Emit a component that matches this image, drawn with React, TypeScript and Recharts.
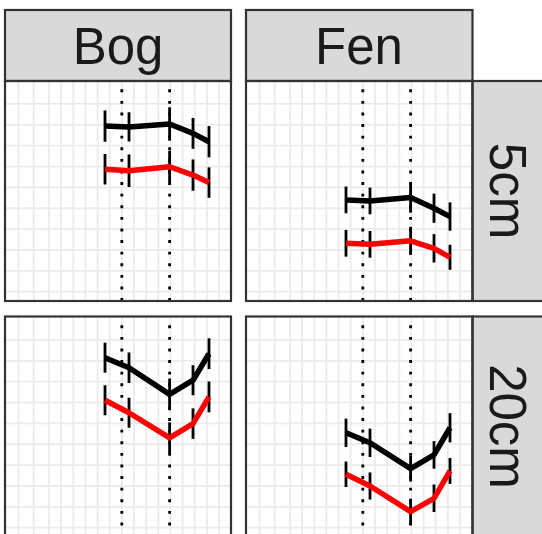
import React from 'react';
import { LineChart, Line, XAxis, YAxis, ReferenceLine, ErrorBar } from 'recharts';

// ---- data (x and y in panel units) ----
const sites = ['Bog', 'Fen'];
const depths = ['5cm', '20cm'];
const sampleX = [100, 124, 164.6, 188, 204];
const markerX = [116.8, 164.6];
const xGridValues = [13.5, 28.7, 44, 56.1, 68.3, 80.4, 92.6, 104.7, 116.9, 129, 141.1, 153.3, 165.4, 177.6, 189.7, 201.9, 214];
const yGridValues = [0, 1, 2, 3, 4, 5, 6, 7, 8, 9];

const bog5Upper = [7.94, 7.90, 8.04, 7.59, 7.19];
const bog5UpperErr = [0.75, 0.7, 0.8, 0.74, 0.75];
const bog5Lower = [5.87, 5.80, 5.99, 5.59, 5.23];
const bog5LowerErr = [0.73, 0.78, 0.76, 0.75, 0.73];

const fen5Upper = [4.40, 4.35, 4.51, 4.00, 3.60];
const fen5UpperErr = [0.64, 0.64, 0.72, 0.7, 0.68];
const fen5Lower = [2.32, 2.27, 2.44, 2.08, 1.65];
const fen5LowerErr = [0.64, 0.64, 0.67, 0.68, 0.6];

const bog20Upper = [8.15, 7.67, 6.39, 7.07, 8.34];
const bog20UpperErr = [0.72, 0.73, 0.76, 0.72, 0.74];
const bog20Lower = [6.11, 5.51, 4.31, 4.99, 6.27];
const bog20LowerErr = [0.72, 0.72, 0.74, 0.73, 0.74];

const fen20Upper = [4.55, 4.07, 2.83, 3.49, 4.79];
const fen20UpperErr = [0.68, 0.68, 0.62, 0.66, 0.7];
const fen20Lower = [2.56, 2.00, 0.77, 1.41, 2.72];
const fen20LowerErr = [0.61, 0.65, 0.62, 0.66, 0.62];

const panelSeries: Record<string, number[][]> = {
  'Bog|5cm': [bog5Upper, bog5UpperErr, bog5Lower, bog5LowerErr],
  'Fen|5cm': [fen5Upper, fen5UpperErr, fen5Lower, fen5LowerErr],
  'Bog|20cm': [bog20Upper, bog20UpperErr, bog20Lower, bog20LowerErr],
  'Fen|20cm': [fen20Upper, fen20UpperErr, fen20Lower, fen20LowerErr],
};

const buildRows = (key: string) => {
  const [u, ue, l, le] = panelSeries[key];
  return sampleX.map((x, i) => ({ x, upper: u[i], upperErr: ue[i], lower: l[i], lowerErr: le[i] }));
};

// ---- layout ----
const PANEL_W = 226;
const PANEL_H = 220;
const colLeft = [5, 246];
const rowTop = [81, 316.5];
const STRIP_TOP = 10;
const RIGHT_STRIP_X = 472.5;
const FONT = '"Liberation Sans", Arial, Helvetica, sans-serif';
const BORDER = '#333333';
const STRIP_FILL = '#D9D9D9';
const GRID = '#EBEBEB';

const Panel = ({ site, depth, left, top }: { site: string; depth: string; left: number; top: number }) => {
  const data = buildRows(`${site}|${depth}`);
  return (
    <div style={{ position: 'absolute', left, top, width: PANEL_W, height: PANEL_H, background: '#fff' }}>
      <LineChart width={PANEL_W} height={PANEL_H} data={data} margin={{ top: 0, right: 0, bottom: 0, left: 0 }}>
        <XAxis dataKey="x" type="number" domain={[0, PANEL_W]} hide allowDataOverflow />
        <YAxis type="number" domain={[-0.446, 10.1]} hide allowDataOverflow />
        {yGridValues.map((gy) => (
          <ReferenceLine key={`gy${gy}`} y={gy} stroke={GRID} strokeWidth={1.8} />
        ))}
        {xGridValues.map((gx) => (
          <ReferenceLine key={`gx${gx}`} x={gx} stroke={GRID} strokeWidth={1.8} />
        ))}
        {markerX.map((mx) => (
          <ReferenceLine key={`m${mx}`} x={mx} stroke="#000" strokeWidth={2.8} strokeDasharray="2.9 8.7" />
        ))}
        <Line
          dataKey="upper"
          stroke="#000000"
          strokeWidth={5.5}
          dot={false}
          activeDot={false}
          strokeLinejoin="round"
          isAnimationActive={false}
        >
          <ErrorBar dataKey="upperErr" direction="y" width={0} stroke="#000" strokeWidth={2.8} isAnimationActive={false} />
        </Line>
        <Line
          dataKey="lower"
          stroke="#FF0000"
          strokeWidth={5.5}
          dot={false}
          activeDot={false}
          strokeLinejoin="round"
          isAnimationActive={false}
        >
          <ErrorBar dataKey="lowerErr" direction="y" width={0} stroke="#000" strokeWidth={2.8} isAnimationActive={false} />
        </Line>
      </LineChart>
    </div>
  );
};

export default function App() {
  return (
    <div
      style={{
        position: 'absolute',
        left: 0,
        top: 0,
        width: 542,
        height: 534,
        overflow: 'hidden',
        background: '#fff',
      }}
    >
      {depths.map((depth, r) =>
        sites.map((site, c) => (
          <Panel key={`${site}-${depth}`} site={site} depth={depth} left={colLeft[c]} top={rowTop[r]} />
        ))
      )}
      <svg
        width={542}
        height={534}
        style={{ position: 'absolute', left: 0, top: 0, pointerEvents: 'none' }}
      >
        {sites.map((site, c) => (
          <g key={site}>
            <rect
              x={colLeft[c]}
              y={STRIP_TOP}
              width={c === 1 ? RIGHT_STRIP_X - colLeft[c] : PANEL_W}
              height={rowTop[0] - STRIP_TOP}
              fill={STRIP_FILL}
              stroke={BORDER}
              strokeWidth={2.2}
            />
            <text
              x={colLeft[c] + PANEL_W / 2}
              y={64}
              textAnchor="middle"
              fontFamily={FONT}
              fontSize={51}
              fill="#1A1A1A"
            >
              {site}
            </text>
          </g>
        ))}
        {depths.map((depth, r) => (
          <g key={depth}>
            <rect
              x={RIGHT_STRIP_X}
              y={rowTop[r]}
              width={80}
              height={PANEL_H}
              fill={STRIP_FILL}
              stroke={BORDER}
              strokeWidth={2.2}
            />
            <text
              transform={`translate(${489.5}, ${rowTop[r] + PANEL_H / 2}) rotate(90)`}
              textAnchor="middle"
              fontFamily={FONT}
              fontSize={51}
              fill="#1A1A1A"
            >
              {depth}
            </text>
          </g>
        ))}
        {depths.map((depth, r) =>
          sites.map((site, c) => (
            <rect
              key={`b-${site}-${depth}`}
              x={colLeft[c]}
              y={rowTop[r]}
              width={c === 1 ? RIGHT_STRIP_X - colLeft[c] : PANEL_W}
              height={PANEL_H}
              fill="none"
              stroke={BORDER}
              strokeWidth={2.2}
            />
          ))
        )}
      </svg>
    </div>
  );
}
